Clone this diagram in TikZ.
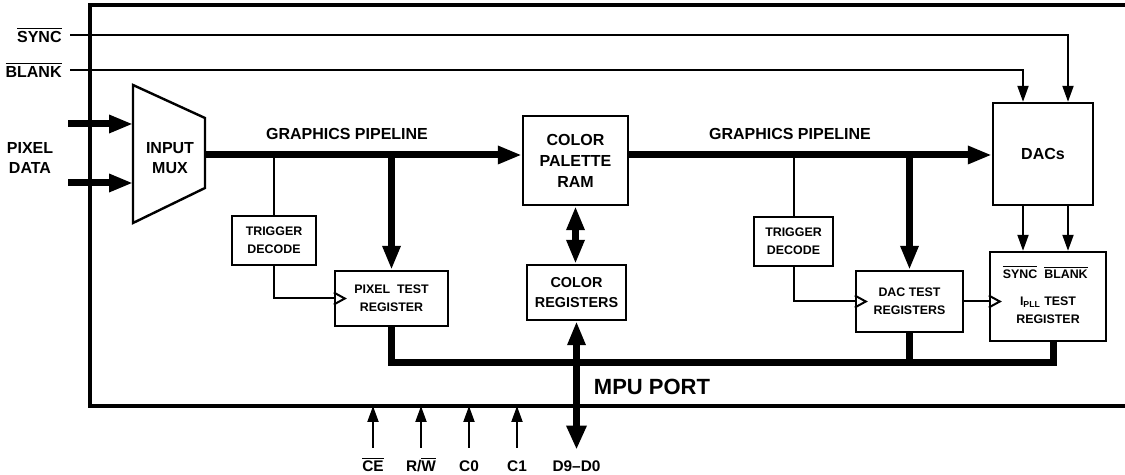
\documentclass[tikz,border=0pt]{standalone}
\usepackage{fontspec}
\setmainfont{Liberation Sans}
\usetikzlibrary{arrows.meta}
\definecolor{ink}{RGB}{0,0,0}
\definecolor{paper}{RGB}{255,255,255}

\tikzset{
    blk/.style={draw=ink, line width=1.2pt, align=center, inner sep=0pt, font=\bfseries\fontsize{6.2}{9}\selectfont},
    bigblk/.style={blk, font=\bfseries\fontsize{8}{10.5}\selectfont},
    lbl/.style={color=ink, align=center, inner sep=0pt, font=\bfseries\fontsize{8}{10}\selectfont},
    pinlabel/.style={color=ink, inner sep=1pt, text height=6pt, text depth=0pt, font=\bfseries\fontsize{7.7}{9}\selectfont},
    sig/.style={color=ink, line width=1pt},
    sigarrow/.style={sig, -{Triangle[length=8pt,width=5.5pt]}},
    bus/.style={color=ink, line width=3.5pt},
    busarrow/.style={bus, -{Triangle[length=12pt,width=8.5pt]}},
    frame/.style={color=ink, line width=1.7pt}
}

\begin{document}
\begin{tikzpicture}[x=0.5pt, y=-0.5pt]
    \useasboundingbox[fill=paper] (0,0) rectangle (1125,475);

    % 1. Chip outline (open to the right)
    \draw[frame] (1125,5) -- (90,5) -- (90,406) -- (1125,406);
    \coordinate (busY) at (0,363);

    % 2. Input mux and pixel data
    \coordinate (muxTL) at (133,85);
    \coordinate (muxTR) at (205,118);
    \coordinate (muxBR) at (205,188);
    \coordinate (muxBL) at (133,223);
    \draw[sig, line width=1.2pt] (muxTL) -- (muxTR) -- (muxBR) -- (muxBL) -- cycle;
    \node[lbl] (mux) at (170,158) {INPUT\\MUX};
    \coordinate (muxOut) at (205,155);

    \node[lbl] (pixdata) at (30,158) {PIXEL\\DATA};
    \coordinate (pinA) at (68,124);
    \coordinate (pinB) at (68,183);
    \draw[busarrow] (pinA) -- (pinA -| muxTL);
    \draw[busarrow] (pinB) -- (pinB -| muxTL);

    % 3. Blocks
    \node[blk, minimum width=42pt, minimum height=24.5pt] (trigL) at (274,240.5) {TRIGGER\\DECODE};
    \node[blk, minimum width=56.5pt, minimum height=27.5pt] (pixreg) at (391.5,298.5) {PIXEL\ \ TEST\\REGISTER};
    \node[bigblk, minimum width=52.5pt, minimum height=44.5pt] (palette) at (575.5,160.5) {COLOR\\PALETTE\\RAM};
    \node[blk, font=\bfseries\fontsize{7.2}{10}\selectfont, minimum width=49.5pt, minimum height=27.5pt] (colreg) at (576.5,292.5) {COLOR\\REGISTERS};
    \node[blk, minimum width=39.5pt, minimum height=24.5pt] (trigR) at (793.5,241.5) {TRIGGER\\DECODE};
    \node[blk, minimum width=53.5pt, minimum height=30.5pt] (dacreg) at (909.5,301.5) {DAC TEST\\REGISTERS};
    \node[bigblk, minimum width=50pt, minimum height=51pt] (dacs) at (1043,154) {DACs};
    \node[blk, minimum width=58pt, minimum height=44.5pt] (ipll) at (1048,296.5) {};
    \node[blk, draw=none] (ipllsync) at (1020,272) {$\overline{\hbox{SYNC}}$};
    \node[blk, draw=none] (ipllblank) at (1066,272) {$\overline{\hbox{BLANK}}$};
    \node[blk, draw=none] (ipllt) at (1048,310) {I\textsubscript{PLL} TEST\\REGISTER};

    % 4. Graphics pipeline
    \draw[busarrow] (muxOut) -- (muxOut -| palette.west);
    \coordinate (pipeR) at (palette.east |- muxOut);
    \draw[busarrow] (pipeR) -- (pipeR -| dacs.west);
    \node[lbl] (pipeL) at (347,134) {GRAPHICS PIPELINE};
    \node[lbl] (pipeRl) at (790,134) {GRAPHICS PIPELINE};

    \draw[busarrow] (pixreg.north |- muxOut) -- (pixreg.north);
    \draw[busarrow] (dacreg.north |- muxOut) -- (dacreg.north);
    \draw[bus, {Triangle[length=12pt,width=8.5pt]}-{Triangle[length=12pt,width=8.5pt]}] (palette.south) -- (palette.south |- colreg.north);

    % 5. Trigger taps and clock inputs
    \draw[sig] (trigL.north |- muxOut) -- (trigL.north);
    \draw[sig] (trigL.south) |- (pixreg.west);
    \draw[sig] (trigR.north |- muxOut) -- (trigR.north);
    \draw[sig] (trigR.south) |- (dacreg.west);
    \coordinate (ipllclk) at (dacreg.east -| ipll.west);
    \draw[sig] (dacreg.east) -- (ipllclk);
    \foreach \c in {pixreg.west, dacreg.west, ipllclk} {
        \draw[sig, line join=miter] ([yshift=3pt]\c) -- ([xshift=5.5pt]\c) -- ([yshift=-3pt]\c);
    }

    % 6. Sync / blank inputs and DAC outputs
    \node[lbl, anchor=east] (syncl) at (62,35) {$\overline{\hbox{SYNC}}$};
    \node[lbl, anchor=east] (blankl) at (62,70) {$\overline{\hbox{BLANK}}$};
    \draw[sigarrow] ([xshift=4pt]syncl.east) -| ([xshift=12.5pt]dacs.north);
    \draw[sigarrow] ([xshift=4pt]blankl.east) -| ([xshift=-10pt]dacs.north);
    \draw[sigarrow] ([xshift=-10pt]dacs.south) -- ([xshift=-10pt]dacs.south |- ipll.north);
    \draw[sigarrow] ([xshift=12.5pt]dacs.south) -- ([xshift=12.5pt]dacs.south |- ipll.north);

    % 7. MPU bus
    \draw[bus] (pixreg.south) -- (pixreg.south |- busY) -| ([xshift=2.5pt]ipll.south);
    \draw[bus] (dacreg.south) -- (dacreg.south |- busY);
    \node[font=\bfseries\fontsize{11}{12}\selectfont, inner sep=0pt] (mpu) at (652,387) {MPU PORT};

    % 8. MPU pins
    \foreach \x/\n/\t in {373/ce/{$\overline{\hbox{CE}}$}, 421/rw/{R/$\overline{\hbox{W}}$}, 469/czero/{C0}, 517/cone/{C1}} {
        \node[pinlabel] (\n) at (\x,466) {\t};
        \draw[sigarrow] ([yshift=5pt]\n.north) -- (\n.north |- 0,406);
    }
    \node[pinlabel] (dnine) at (colreg.south |- 0,466) {D9--D0};
    \draw[bus, {Triangle[length=12pt,width=8.5pt]}-{Triangle[length=12pt,width=9.5pt]}] (colreg.south) -- ([yshift=4pt]dnine.north);

\end{tikzpicture}
\end{document}
